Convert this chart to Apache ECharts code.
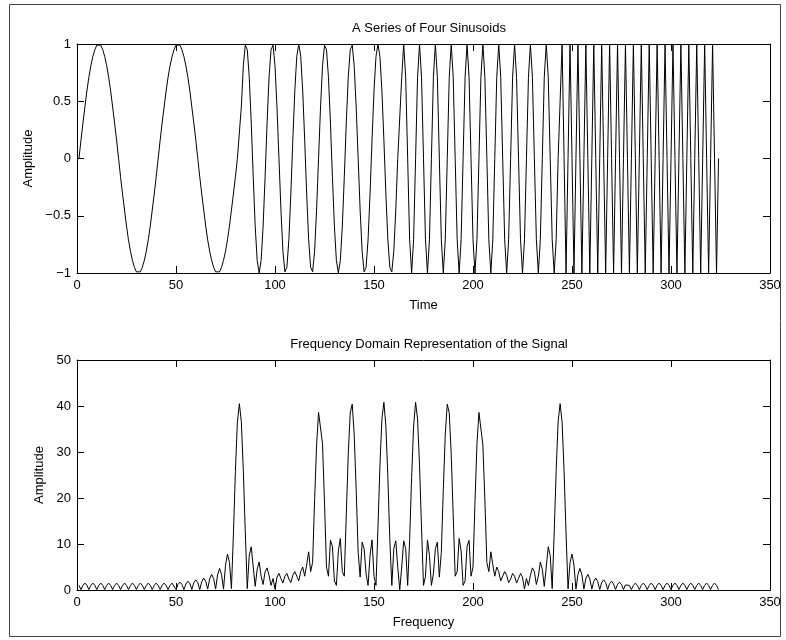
<!DOCTYPE html>
<html>
<head>
<meta charset="utf-8">
<title>A Series of Four Sinusoids</title>
<script src="https://cdn.jsdelivr.net/npm/echarts@6/dist/echarts.min.js"></script>
<style>
  html, body { margin: 0; padding: 0; background: #fff; }
  #chart { width: 786px; height: 640px; }
</style>
</head>
<body>
<div id="chart"></div>
<script>
// 上图：四段正弦信号（每段 81 个采样点）
const seg1 = [
  0,0.16,0.31,0.45,0.59,0.71,0.81,0.89,0.95,0.99,1,0.99,0.95,0.89,0.81,0.71,0.59,0.45,0.31,0.16,
  0,-0.16,-0.31,-0.45,-0.59,-0.71,-0.81,-0.89,-0.95,-0.99,-1,-0.99,-0.95,-0.89,-0.81,-0.71,-0.59,-0.45,-0.31,-0.16,
  0,0.16,0.31,0.45,0.59,0.71,0.81,0.89,0.95,0.99,1,0.99,0.95,0.89,0.81,0.71,0.59,0.45,0.31,0.16,
  0,-0.16,-0.31,-0.45,-0.59,-0.71,-0.81,-0.89,-0.95,-0.99,-1,-0.99,-0.95,-0.89,-0.81,-0.71,-0.59,-0.45,-0.31,-0.16,
  0
];
const seg2 = [
  0,0.45,0.81,0.99,0.95,0.71,0.31,-0.16,-0.59,-0.89,-1,-0.89,-0.59,-0.16,0.31,0.71,0.95,0.99,0.81,0.45,
  0,-0.45,-0.81,-0.99,-0.95,-0.71,-0.31,0.16,0.59,0.89,1,0.89,0.59,0.16,-0.31,-0.71,-0.95,-0.99,-0.81,-0.45,
  0,0.45,0.81,0.99,0.95,0.71,0.31,-0.16,-0.59,-0.89,-1,-0.89,-0.59,-0.16,0.31,0.71,0.95,0.99,0.81,0.45,
  0,-0.45,-0.81,-0.99,-0.95,-0.71,-0.31,0.16,0.59,0.89,1,0.89,0.59,0.16,-0.31,-0.71,-0.95,-0.99,-0.81,-0.45,
  0
];
const seg3 = [
  0,0.71,1,0.71,0,-0.71,-1,-0.71, 0,0.71,1,0.71,0,-0.71,-1,-0.71,
  0,0.71,1,0.71,0,-0.71,-1,-0.71, 0,0.71,1,0.71,0,-0.71,-1,-0.71,
  0,0.71,1,0.71,0,-0.71,-1,-0.71, 0,0.71,1,0.71,0,-0.71,-1,-0.71,
  0,0.71,1,0.71,0,-0.71,-1,-0.71, 0,0.71,1,0.71,0,-0.71,-1,-0.71,
  0,0.71,1,0.71,0,-0.71,-1,-0.71, 0,0.71,1,0.71,0,-0.71,-1,-0.71,
  0
];
const seg4 = [
  0,1,0,-1, 0,1,0,-1, 0,1,0,-1, 0,1,0,-1, 0,1,0,-1,
  0,1,0,-1, 0,1,0,-1, 0,1,0,-1, 0,1,0,-1, 0,1,0,-1,
  0,1,0,-1, 0,1,0,-1, 0,1,0,-1, 0,1,0,-1, 0,1,0,-1,
  0,1,0,-1, 0,1,0,-1, 0,1,0,-1, 0,1,0,-1, 0,1,0,-1,
  0
];

// 下图：频谱幅值（324 个点，按图读取估计）
const spectrum = [
  1.0,0.1,1.0,1.5, 1.0,0.1,1.0,1.5, 1.0,0.1,1.0,1.5, 1.0,0.1,1.0,1.5,
  1.0,0.1,1.0,1.5, 1.0,0.1,1.0,1.5, 1.0,0.1,1.0,1.5, 1.0,0.1,1.0,1.5,
  1.0,0.1,1.0,1.5, 1.0,0.1,1.0,1.5, 1.0,0.1,1.0,1.5, 1.0,0.1,1.0,1.5,
  1.1,0.1,1.2,1.7, 1.2,0.1,1.3,1.9, 1.4,0.1,1.6,2.2, 1.6,0.1,1.8,2.6,
  1.9,0.2,2.4,3.4, 2.5,0.2,3.3,4.7, 3.4,0.2,5.4,7.8, 6.0,0.3,12.2,25.8,
  36.5,40.5,36.6,26.0, 12.4,0.3,7.5,9.4, 5.0,0.8,4.5,6.1, 3.0,1.2,4.0,4.8,
  3.2,1.0,2.5,0.2, 2.8,3.6,2.5,1.5, 3.0,3.6,2.4,1.6, 3.2,4.0,3.0,2.0,
  4.0,5.0,3.0,5.5, 8.3,4.0,6.0,19.5, 31.5,38.6,38.6,31.8, 19.0,5.0,3.0,10.8,
  9.5,2.0,1.0,8.5, 11.2,4.0,3.0,16.3, 29.5,38.5,40.4,33.8, 21.8,8.2,2.8,10.4,
  9.0,3.5,1.0,7.5, 10.9,3.0,1.0,13.5, 27.1,37.2,40.8,35.6, 24.5,10.8,1.0,9.0,
  10.7,5.0,0.0,
  5.0,10.7,9.0,1.0, 10.8,24.5,35.6,40.8, 37.2,27.1,13.5,1.0, 3.0,10.9,7.5,1.0,
  3.5,9.0,10.4,2.8, 8.2,21.8,33.8,40.4, 38.5,29.5,16.3,3.0, 4.0,11.2,8.5,1.0,
  2.0,9.5,10.8,3.0, 5.0,19.0,31.8,38.6, 38.6,31.5,19.5,6.0, 4.0,8.3,5.5,3.0,
  5.0,4.0,2.0,3.0, 4.0,3.2,1.6,2.4, 3.6,3.0,1.5,2.5, 3.6,2.8,0.2,2.5,
  1.0,3.2,4.8,4.0, 1.2,3.0,6.1,4.5, 0.8,5.0,9.4,7.5, 0.3,12.4,26.0,36.6,
  40.5,36.5,25.8,12.2, 0.3,6.0,7.8,5.4, 0.2,3.4,4.7,3.3, 0.2,2.5,3.4,2.4,
  0.2,1.9,2.6,1.8, 0.1,1.6,2.2,1.6, 0.1,1.4,1.9,1.3, 0.1,1.2,1.7,1.2,
  0.1,1.1,
  1.5,1.0,0.1,1.0, 1.5,1.0,0.1,1.0, 1.5,1.0,0.1,1.0, 1.5,1.0,0.1,1.0,
  1.5,1.0,0.1,1.0, 1.5,1.0,0.1,1.0, 1.5,1.0,0.1,1.0, 1.5,1.0,0.1,1.0,
  1.5,1.0,0.1,1.0, 1.5,1.0,0.1,1.0, 1.5,1.0,0.1,1.0,
  1.5,1.0,0.1
];

// 坐标轴刻度
const xTicks = { min: 0, max: 350, interval: 50 };
const yTicksTop = { min: -1, max: 1, interval: 0.5 };
const yTicksBottom = { min: 0, max: 50, interval: 10 };

const signal = seg1.concat(seg2, seg3, seg4);
const signalData = signal.map((v, i) => [i + 1, v]);
const spectrumData = spectrum.map((v, i) => [i + 1, v]);

const FONT = '"Liberation Sans", Arial, Helvetica, sans-serif';
const fmt = v => String(v).replace('-', '\u2212');
const txt = { color: '#000', fontSize: 13, fontFamily: FONT };

// 生成一组 x 轴（下方带标签 + 上方镜像刻度）
function makeXAxes(gridIndex, name) {
  const base = {
    type: 'value', gridIndex, min: xTicks.min, max: xTicks.max, interval: xTicks.interval,
    axisLine: { onZero: false, lineStyle: { color: '#000', width: 1 } },
    axisTick: { inside: true, length: 7, lineStyle: { color: '#000', width: 1 } },
    splitLine: { show: false }
  };
  return [
    Object.assign({}, base, {
      position: 'bottom', name, nameLocation: 'middle', nameGap: 26, nameTextStyle: txt,
      axisLabel: Object.assign({ margin: 6 }, txt)
    }),
    Object.assign({}, base, { position: 'top', axisLabel: { show: false } })
  ];
}

// 生成一组 y 轴（左侧带标签 + 右侧镜像刻度）
function makeYAxes(gridIndex, ticks, name, gap) {
  const base = {
    type: 'value', gridIndex, min: ticks.min, max: ticks.max, interval: ticks.interval,
    axisLine: { onZero: false, lineStyle: { color: '#000', width: 1 } },
    axisTick: { inside: true, length: 7, lineStyle: { color: '#000', width: 1 } },
    splitLine: { show: false }
  };
  return [
    Object.assign({}, base, {
      position: 'left', name, nameLocation: 'middle', nameGap: gap, nameTextStyle: txt,
      axisLabel: Object.assign({ margin: 6, formatter: fmt }, txt)
    }),
    Object.assign({}, base, { position: 'right', axisLabel: { show: false } })
  ];
}

const chart = echarts.init(document.getElementById('chart'), null, { renderer: 'canvas' });

chart.setOption({
  animation: false,
  backgroundColor: '#fff',
  title: [
    { text: 'A Series of Four Sinusoids', left: 424, top: 17, textAlign: 'center',
      textStyle: Object.assign({ fontWeight: 'normal' }, txt) },
    { text: 'Frequency Domain Representation of the Signal', left: 424, top: 333, textAlign: 'center',
      textStyle: Object.assign({ fontWeight: 'normal' }, txt) }
  ],
  grid: [
    { left: 77, right: 16, top: 44, height: 229 },
    { left: 77, right: 16, top: 360, height: 230 }
  ],
  xAxis: makeXAxes(0, 'Time').concat(makeXAxes(1, 'Frequency')),
  yAxis: makeYAxes(0, yTicksTop, 'Amplitude', 33).concat(makeYAxes(1, yTicksBottom, 'Amplitude', 26)),
  series: [
    { type: 'line', xAxisIndex: 0, yAxisIndex: 0, data: signalData, showSymbol: false, symbol: 'none',
      silent: true, lineStyle: { color: '#000', width: 1 } },
    { type: 'line', xAxisIndex: 2, yAxisIndex: 2, data: spectrumData, showSymbol: false, symbol: 'none',
      silent: true, lineStyle: { color: '#000', width: 1 } }
  ],
  graphic: [
    { type: 'rect', shape: { x: 9.5, y: 4.5, width: 771, height: 632 },
      style: { fill: 'none', stroke: '#444', lineWidth: 1 }, silent: true }
  ]
});
</script>
</body>
</html>
